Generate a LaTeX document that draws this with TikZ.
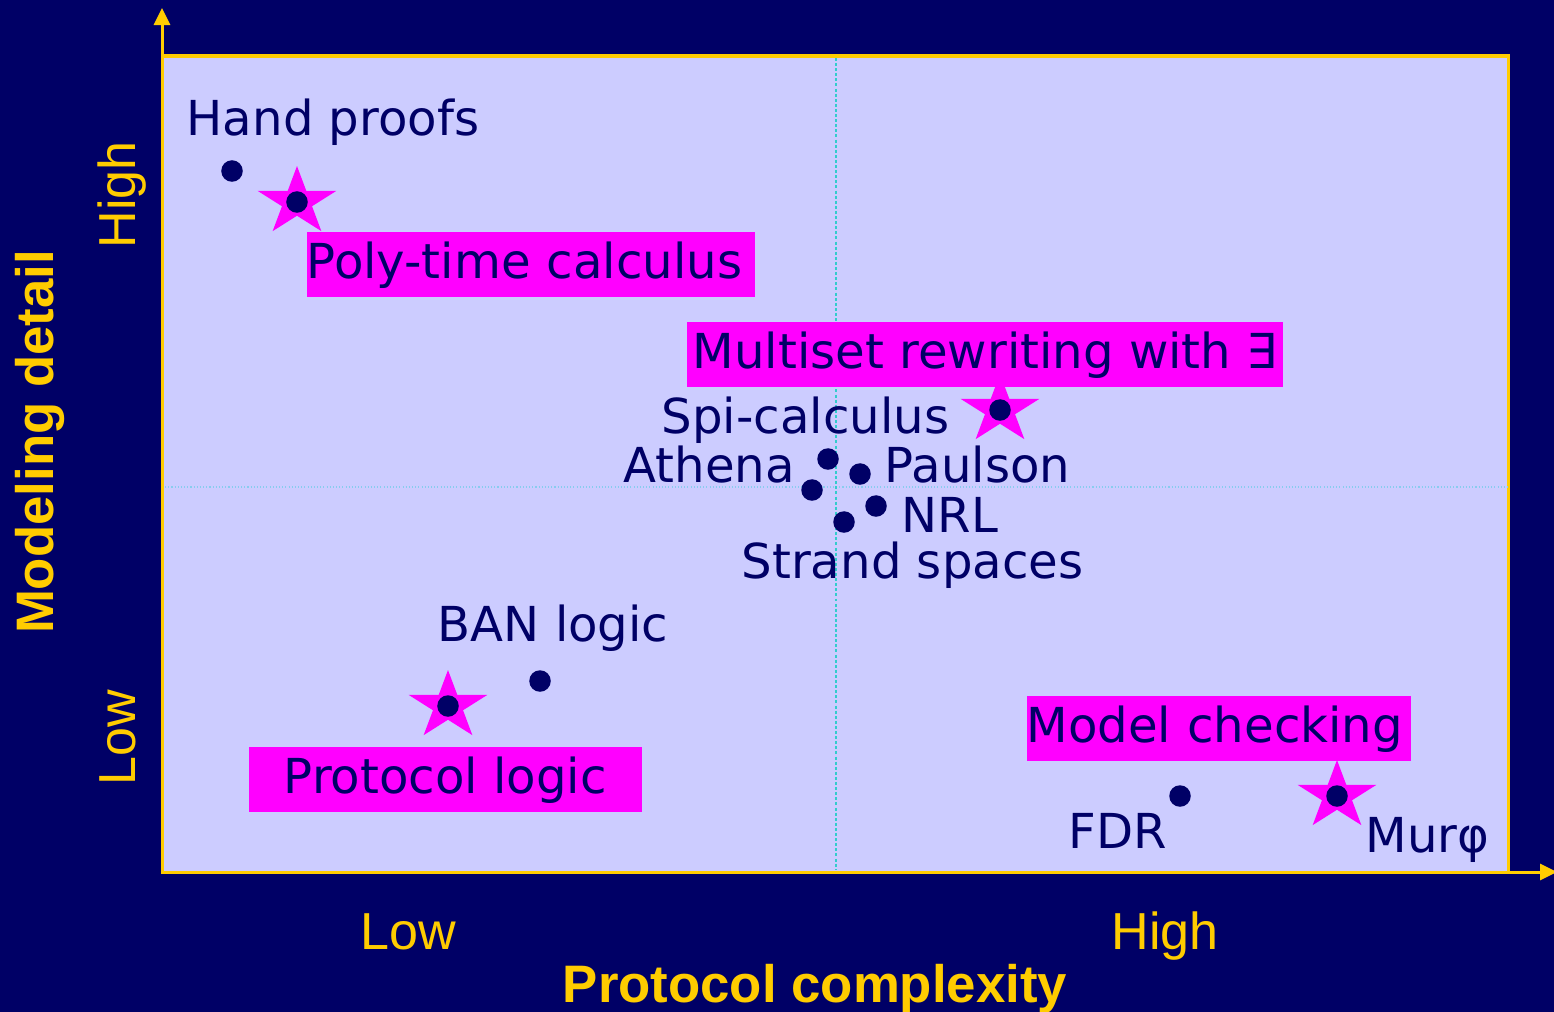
\documentclass[tikz,border=0pt]{standalone}
\usepackage{fontspec}
\setmainfont{DejaVu Sans}
\newfontfamily\axisfont{Liberation Sans}
\usetikzlibrary{arrows.meta}
\definecolor{navy}{HTML}{000066}
\definecolor{plotbg}{HTML}{CCCCFF}
\definecolor{gold}{HTML}{FFCC00}
\definecolor{hilite}{HTML}{FF00FF}
\definecolor{vline}{HTML}{33CCCC}
\definecolor{hline}{HTML}{88CCEE}
\newcommand\labfont{\fontsize{13.7pt}{16pt}\selectfont}
\newcommand\markstar[1]{%
  \begin{scope}[shift={(#1)}]
    \fill[hilite] (0,-36)
      \foreach \k in {0,...,4}{
        -- ({1.15*13.75*cos(126+72*\k)},{-13.75*sin(126+72*\k)})
        -- ({1.15*36*cos(162+72*\k)},{-36*sin(162+72*\k)})
      } -- cycle;
  \end{scope}}
\begin{document}
\begin{tikzpicture}[x=0.01cm,y=-0.01cm,
  dot/.style={circle,fill=navy,inner sep=0pt,minimum size=0.215cm},
  lab/.style={font=\labfont,text=navy,inner sep=0pt},
  tagbox/.style={fill=hilite,font=\labfont,text=navy,inner xsep=0pt,inner ysep=0pt,
    minimum height=0.65cm,text height=0.47cm,text depth=0.18cm},
  axislab/.style={font=\axisfont\fontsize{14.8pt}{17pt}\selectfont,text=gold,inner sep=0pt},
  axistitle/.style={font=\axisfont\bfseries\fontsize{15pt}{18pt}\selectfont,text=gold,inner sep=0pt},
  axisline/.style={draw=gold,line width=0.03cm,-{Triangle[length=0.17cm,width=0.16cm]}}]
\useasboundingbox (0,0) rectangle (1554,1012);
\fill[navy] (0,0) rectangle (1554,1012);

% plot area
\fill[plotbg] (162,56) rectangle (1508,872);
\draw[gold,line width=0.03cm] (162,56) rectangle (1508,872);
\draw[hline,line width=0.3pt,dash pattern=on 0.3pt off 0.6pt] (162,487) -- (1508,487);
\draw[vline,line width=0.6pt,dash pattern=on 0.85pt off 0.6pt] (836,58) -- (836,870);

% axes
\coordinate (origin) at (162,872);
\coordinate (ytip) at (162,8);
\coordinate (xtip) at (1557,872);
\draw[axisline] (origin) -- (ytip);
\draw[axisline] (origin) -- (xtip);

% method positions
\coordinate (cpoly) at (297,202);
\coordinate (cspi) at (1000,410);
\coordinate (cprot) at (448,706);
\coordinate (cmur) at (1337,796);

% highlighted methods
\markstar{cpoly}
\markstar{cspi}
\markstar{cprot}
\markstar{cmur}

% data points
\node[dot] (hand) at (232,171) {};
\node[dot] (poly) at (cpoly) {};
\node[dot] (spi) at (cspi) {};
\node[dot] (athena) at (828,459) {};
\node[dot] (paulson) at (860,474) {};
\node[dot] (mid) at (812,490) {};
\node[dot] (nrl) at (876,506) {};
\node[dot] (strand) at (844,522) {};
\node[dot] (ban) at (540,681) {};
\node[dot] (prot) at (cprot) {};
\node[dot] (fdr) at (1180,796) {};
\node[dot] (mur) at (cmur) {};

% highlighted labels
\node[tagbox,anchor=north west,text width=4.48cm,align=left] (polybox) at (306,231) {Poly-time calculus};
\node[tagbox,anchor=north west,minimum width=5.96cm] (msbox) at (686,321) {Multiset rewriting with ∃};
\node[tagbox,anchor=north west,minimum width=3.93cm] (protbox) at (248,746) {Protocol logic};
\node[tagbox,anchor=north west,text width=3.84cm,align=left] (mcbox) at (1026,695) {Model checking};

% plain labels
\node[lab,anchor=base west] (handlab) at (186,135) {Hand proofs};
\node[lab,anchor=base west] (spilab) at (661,433) {Spi-calculus};
\node[lab,anchor=base west] (athlab) at (623,482) {Athena};
\node[lab,anchor=base west] (paullab) at (884,482) {Paulson};
\node[lab,anchor=base west] (nrllab) at (901,532) {NRL};
\node[lab,anchor=base west] (strlab) at (741,578) {Strand spaces};
\node[lab,anchor=base west] (banlab) at (437,641) {BAN logic};
\node[lab,anchor=base west] (fdrlab) at (1068,848) {FDR};
\node[lab,anchor=base west] (murlab) at (1365,852) {Murφ};

% axis labels
\node[axislab,anchor=base] (xlow) at (408,949) {Low};
\node[axislab,anchor=base] (xhigh) at (1165,949) {High};
\node[axislab,anchor=base,rotate=90] (yhigh) at (135,195) {High};
\node[axislab,anchor=base,rotate=90] (ylow) at (135,738) {Low};
\node[axistitle,anchor=base] (xtitle) at (815,1002) {Protocol complexity};
\node[axistitle,anchor=base,rotate=90] (ytitle) at (54,442) {Modeling detail};
\end{tikzpicture}
\end{document}
